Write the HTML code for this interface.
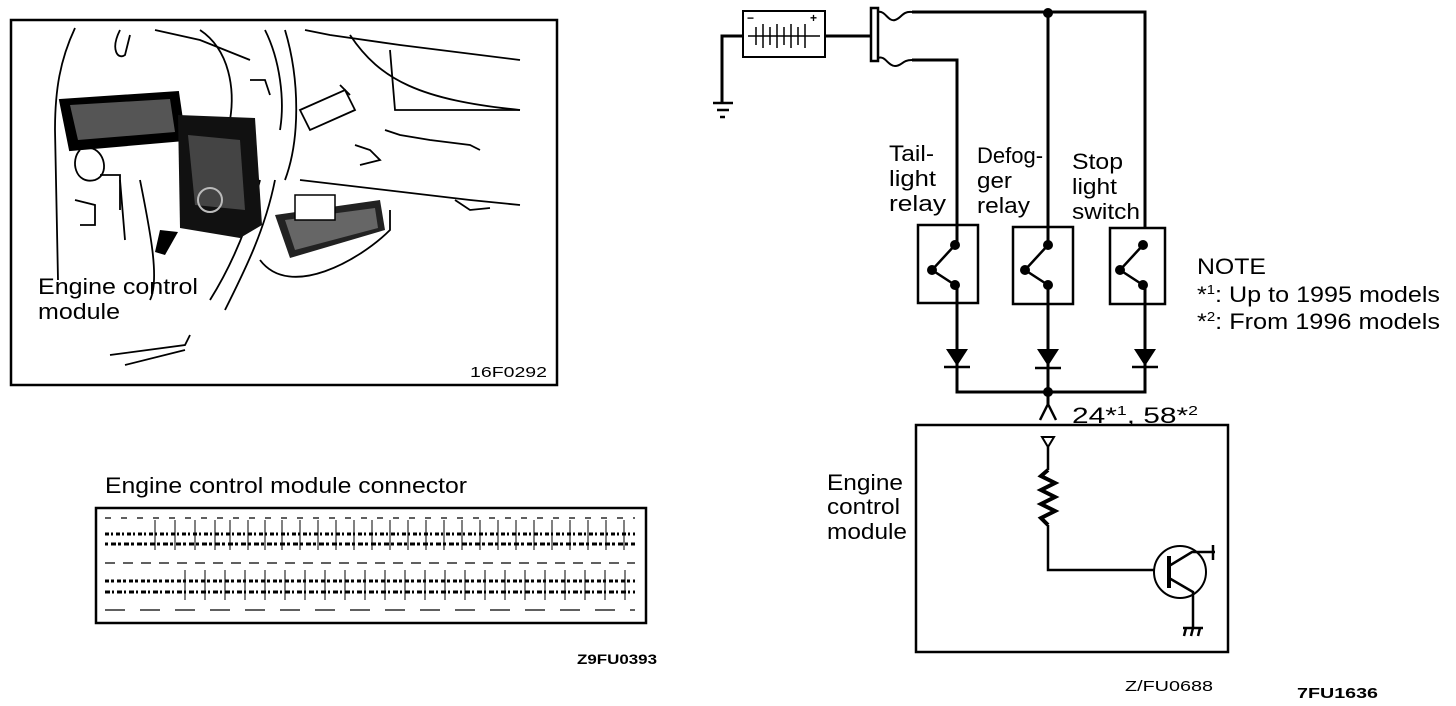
<!DOCTYPE html>
<html><head><meta charset="utf-8"><style>
html,body{margin:0;padding:0;background:#fff;}
svg{display:block;}
text{font-family:"Liberation Sans",Arial,sans-serif;fill:#000;}
</style></head><body>
<svg width="1456" height="706" viewBox="0 0 1456 706" xmlns="http://www.w3.org/2000/svg">
<rect width="1456" height="706" fill="#fff"/>
<rect x="11" y="20" width="546" height="365" fill="none" stroke="#000" stroke-width="2.5"/>
<g fill="none" stroke="#000" stroke-width="1.8">
<path d="M75 28 C60 60 55 90 55 130 L58 280"/>
<path d="M120 30 C110 50 118 60 125 55 L130 35"/>
<path d="M155 30 L200 40 L250 60"/>
<path d="M200 30 C230 50 235 90 230 120"/>
<path d="M265 30 C280 60 285 100 280 130"/>
<path d="M285 30 C300 80 300 140 285 180"/>
<path d="M305 30 L330 35 L400 45 L520 60"/>
<path d="M350 35 C380 80 420 100 520 110"/>
<path d="M390 50 L395 110 L520 110"/>
<path d="M385 130 L400 135 L430 140 L470 145 L480 150"/>
<path d="M355 145 L370 150 L380 160 L360 165"/>
<path d="M300 180 L470 200 L520 205"/>
<path d="M455 200 L470 210 L490 208"/>
<path d="M250 80 L265 80 L270 95"/>
<path d="M120 180 L125 240 M140 180 C150 230 160 280 150 300"/>
<path d="M100 175 L120 175 L120 210"/>
<path d="M260 260 C290 300 360 260 390 230 L390 210"/>
<path d="M210 300 C235 260 250 220 260 180 M225 310 C245 270 265 230 275 180"/>
<path d="M110 355 L185 345 L190 335 M125 365 L185 350"/>
<path d="M80 150 C70 160 75 185 95 180 C110 175 105 150 90 148"/>
<path d="M75 200 L95 205 L95 225 L80 225"/>
<path d="M300 110 L345 90 L355 110 L310 130 Z"/>
<path d="M340 85 L350 95"/>
</g>
<path d="M60 100 L178 92 L185 140 L70 150 Z" fill="#000" stroke="#000" stroke-width="2"/>
<path d="M70 105 L170 99 L175 132 L78 140 Z" fill="#555"/>
<path d="M178 115 L255 118 L262 225 L240 238 L180 228 Z" fill="#111"/>
<path d="M188 135 L240 140 L245 210 L195 205 Z" fill="#444"/>
<circle cx="210" cy="200" r="12" fill="none" stroke="#bbb" stroke-width="2"/>
<path d="M160 230 L178 232 L165 255 L155 252 Z" fill="#000"/>
<path d="M275 215 L380 200 L385 230 L290 258 Z" fill="#222"/>
<path d="M285 220 L375 208 L378 228 L295 250 Z" fill="#666"/>
<rect x="295" y="195" width="40" height="25" fill="#fff" stroke="#000" stroke-width="1.5"/>
<text x="38" y="294" font-size="22" textLength="160" lengthAdjust="spacingAndGlyphs">Engine control</text>
<text x="38" y="319" font-size="22" textLength="82" lengthAdjust="spacingAndGlyphs">module</text>
<text x="470" y="377" font-size="15" textLength="77" lengthAdjust="spacingAndGlyphs">16F0292</text>

<text x="105" y="493" font-size="22" textLength="362" lengthAdjust="spacingAndGlyphs">Engine control module connector</text>
<rect x="96" y="508" width="550" height="115" fill="none" stroke="#000" stroke-width="2.5"/>
<g stroke="#000" stroke-width="1.2">
<line x1="105" y1="518" x2="635" y2="518" stroke-dasharray="6 10"/>
<line x1="105" y1="534" x2="635" y2="534" stroke-width="3" stroke-dasharray="4 2 2 3"/>
<line x1="105" y1="544" x2="635" y2="544" stroke-width="3" stroke-dasharray="3 3 5 2"/>
<line x1="105" y1="563" x2="635" y2="563" stroke-dasharray="10 8"/>
<line x1="105" y1="581" x2="635" y2="581" stroke-width="3" stroke-dasharray="4 2 3 3"/>
<line x1="105" y1="592" x2="635" y2="592" stroke-width="3" stroke-dasharray="5 2 2 3"/>
<line x1="105" y1="610" x2="635" y2="610" stroke-dasharray="20 15"/>
</g>
<g stroke="#000" stroke-width="1">
<path d="M155 520V550 M175 520V550 M195 520V550 M215 520V550 M230 520V550 M248 520V550 M265 520V550 M282 520V550 M300 520V550 M318 520V550 M336 520V550 M354 520V550 M372 520V550 M390 520V550 M408 520V550 M426 520V550 M444 520V550 M462 520V550 M480 520V550 M498 520V550 M516 520V550 M534 520V550 M552 520V550 M570 520V550 M588 520V550 M606 520V550 M624 520V550"/>
<path d="M185 570V600 M205 570V600 M225 570V600 M245 570V600 M265 570V600 M285 570V600 M305 570V600 M325 570V600 M345 570V600 M365 570V600 M385 570V600 M405 570V600 M425 570V600 M445 570V600 M465 570V600 M485 570V600 M505 570V600 M525 570V600 M545 570V600 M565 570V600 M585 570V600 M605 570V600 M625 570V600"/>
</g>
<text x="577" y="664" font-size="14" font-weight="bold" textLength="80" lengthAdjust="spacingAndGlyphs">Z9FU0393</text>

<g fill="none" stroke="#000" stroke-width="3">
<rect x="743" y="11" width="82" height="46" stroke-width="2"/>
<path d="M722 102 V36 H743 M825 36 H871"/>
<rect x="871" y="8" width="7" height="53" stroke-width="2.5"/>
<path d="M878 12 C885 10 888 22 895 20 C902 18 902 11 912 12 M878 58 C885 55 888 66 895 66 C902 66 902 60 912 60" stroke-width="2"/>
<path d="M912 12 H1145 V228 M1048 12 V245 M912 60 H957 V245"/>
<path d="M957 285 V392 H1145 V285 M1048 285 V404"/>
<path d="M955 245 L932 270 L955 285 M1048 245 L1025 270 L1048 285 M1143 245 L1120 270 L1143 285" stroke-width="2.5"/>
</g>
<g stroke="#000" stroke-width="1.5" fill="none">
<path d="M748 36 H820 M756 27V45 M763 24V48 M770 27V45 M777 24V48 M784 27V45 M791 24V48 M798 27V45 M805 24V48"/>
</g>
<text x="747" y="22" font-size="12" font-weight="bold">−</text>
<text x="810" y="22" font-size="12" font-weight="bold">+</text>
<g stroke="#000" stroke-width="2.5"><line x1="713" y1="103" x2="733" y2="103"/><line x1="717" y1="110" x2="729" y2="110"/><line x1="720" y1="117" x2="725" y2="117"/></g>
<g fill="#000">
<circle cx="1048" cy="13" r="5"/><circle cx="1048" cy="392" r="5"/>
<circle cx="955" cy="245" r="5"/><circle cx="932" cy="270" r="5"/><circle cx="955" cy="285" r="5"/>
<circle cx="1048" cy="245" r="5"/><circle cx="1025" cy="270" r="5"/><circle cx="1048" cy="285" r="5"/>
<circle cx="1143" cy="245" r="5"/><circle cx="1120" cy="270" r="5"/><circle cx="1143" cy="285" r="5"/>
<path d="M946 349 H968 L957 366 Z"/><path d="M1037 349 H1059 L1048 366 Z"/><path d="M1134 349 H1156 L1145 366 Z"/>
</g>
<g stroke="#000" stroke-width="2.5"><line x1="944" y1="367" x2="970" y2="367"/><line x1="1035" y1="368" x2="1061" y2="368"/><line x1="1132" y1="367" x2="1158" y2="367"/></g>
<g fill="none" stroke="#000" stroke-width="2.5">
<rect x="918" y="225" width="60" height="78"/>
<rect x="1013" y="227" width="60" height="77"/>
<rect x="1110" y="228" width="55" height="76"/>
<path d="M1040 420 L1048 404 L1056 420"/>
<rect x="916" y="425" width="312" height="227"/>
<path d="M1042 437 H1054 L1048 447 Z" stroke-width="2"/>
<path d="M1048 447 V470 M1048 525 V570 H1155"/>
<path d="M1048 470 L1041 476 L1055 483 L1041 490 L1055 497 L1041 504 L1055 511 L1041 518 L1048 525" stroke-width="4"/>
<circle cx="1180" cy="572" r="26" stroke-width="2"/>
<path d="M1169 556 V588" stroke-width="4"/>
<path d="M1169 566 L1192 552 H1215 M1213 545 V560 M1169 578 L1193 592 V628"/>
<path d="M1183 628 H1203 M1186 628 L1184 636 M1193 628 L1191 636 M1200 628 L1198 636"/>
</g>
<text x="889" y="161" font-size="22" textLength="45" lengthAdjust="spacingAndGlyphs">Tail-</text>
<text x="889" y="186" font-size="22" textLength="47" lengthAdjust="spacingAndGlyphs">light</text>
<text x="889" y="211" font-size="22" textLength="57" lengthAdjust="spacingAndGlyphs">relay</text>
<text x="977" y="163" font-size="22">Defog-</text>
<text x="977" y="188" font-size="22" textLength="35" lengthAdjust="spacingAndGlyphs">ger</text>
<text x="977" y="213" font-size="22" textLength="53" lengthAdjust="spacingAndGlyphs">relay</text>
<text x="1072" y="169" font-size="22" textLength="51" lengthAdjust="spacingAndGlyphs">Stop</text>
<text x="1072" y="194" font-size="22" textLength="45" lengthAdjust="spacingAndGlyphs">light</text>
<text x="1072" y="219" font-size="22" textLength="68" lengthAdjust="spacingAndGlyphs">switch</text>
<text x="1197" y="274" font-size="22" textLength="69" lengthAdjust="spacingAndGlyphs">NOTE</text>
<text x="1197" y="302" font-size="22" textLength="243" lengthAdjust="spacingAndGlyphs">*<tspan font-size="13" dy="-8">1</tspan><tspan dy="8">: Up to 1995 models</tspan></text>
<text x="1197" y="329" font-size="22" textLength="243" lengthAdjust="spacingAndGlyphs">*<tspan font-size="13" dy="-8">2</tspan><tspan dy="8">: From 1996 models</tspan></text>
<text x="1072" y="423" font-size="22" textLength="126" lengthAdjust="spacingAndGlyphs">24*<tspan font-size="13" dy="-8">1</tspan><tspan dy="8">, 58*</tspan><tspan font-size="13" dy="-8">2</tspan></text>
<text x="827" y="490" font-size="22" textLength="76" lengthAdjust="spacingAndGlyphs">Engine</text>
<text x="827" y="514" font-size="22" textLength="73" lengthAdjust="spacingAndGlyphs">control</text>
<text x="827" y="539" font-size="22" textLength="80" lengthAdjust="spacingAndGlyphs">module</text>
<text x="1125" y="691" font-size="15" textLength="88" lengthAdjust="spacingAndGlyphs">Z/FU0688</text>
<text x="1297" y="698" font-size="15" font-weight="bold" textLength="81" lengthAdjust="spacingAndGlyphs">7FU1636</text>
</svg>
</body></html>
